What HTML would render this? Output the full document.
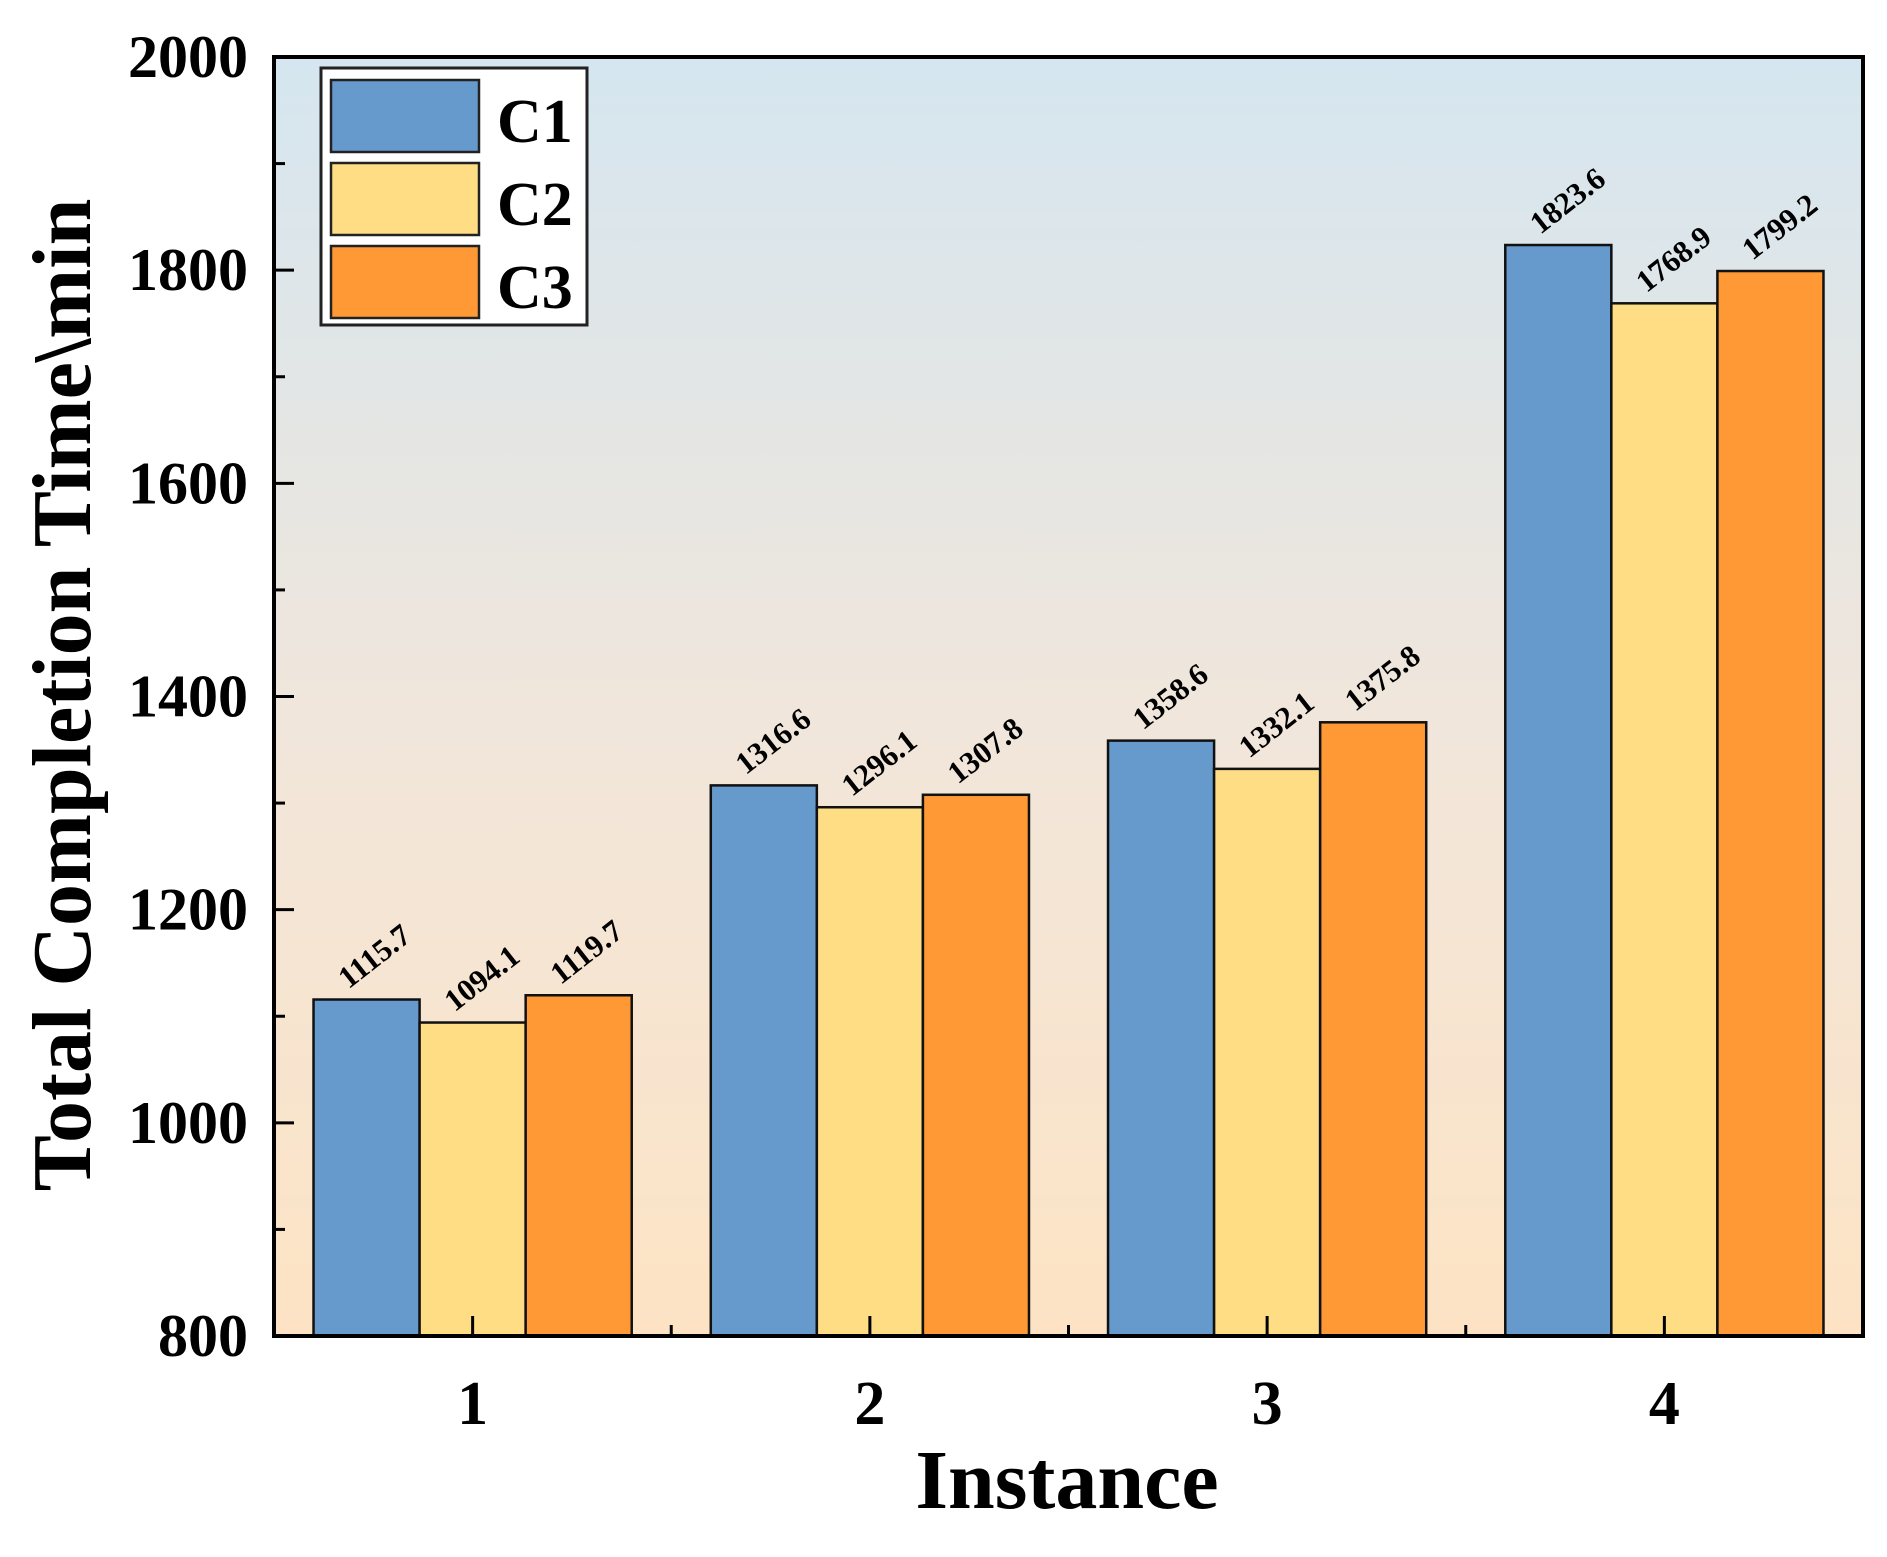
<!DOCTYPE html>
<html><head><meta charset="utf-8"><style>
html,body{margin:0;padding:0;background:#fff;}
svg{display:block;font-family:"Liberation Serif",serif;}
</style></head><body>
<svg id="chart" width="1887" height="1557" viewBox="0 0 1887 1557">
<defs>
<linearGradient id="bg" x1="0" y1="0" x2="0" y2="1">
<stop offset="0" stop-color="#d5e6f0"/>
<stop offset="0.55" stop-color="#f2e6da"/>
<stop offset="1" stop-color="#fde3c4"/>
</linearGradient>
</defs>
<rect x="274" y="57" width="1589" height="1279" fill="url(#bg)"/>
<g id="bars"></g>
<g id="labels"></g>
<g id="axes"></g>
<rect x="274" y="57" width="1589" height="1279" fill="none" stroke="#000" stroke-width="4"/>
<g>
<rect x="321" y="68" width="266" height="257" fill="#fff" stroke="#222" stroke-width="3"/>
<rect x="331" y="80" width="148" height="72" fill="#6699cc" stroke="#222" stroke-width="2.5"/>
<text x="497" y="142" font-size="62" font-weight="bold">C1</text>
<rect x="331" y="163" width="148" height="72" fill="#fedd85" stroke="#222" stroke-width="2.5"/>
<text x="497" y="225" font-size="62" font-weight="bold">C2</text>
<rect x="331" y="246" width="148" height="72" fill="#fe9935" stroke="#222" stroke-width="2.5"/>
<text x="497" y="308" font-size="62" font-weight="bold">C3</text>
</g>
<text x="1067" y="1508" font-size="84" font-weight="bold" text-anchor="middle">Instance</text>
<text transform="translate(90,695) rotate(-90)" font-size="84" font-weight="bold" text-anchor="middle">Total Completion Time\min</text>
</svg>
<script>
const categories = ["1","2","3","4"];
const seriesNames = ["C1","C2","C3"];
const c1Values = [1115.7,1316.6,1358.6,1823.6];
const c2Values = [1094.1,1296.1,1332.1,1768.9];
const c3Values = [1119.7,1307.8,1375.8,1799.2];
const yTicks = [800,1000,1200,1400,1600,1800,2000];
const colors = ["#6699cc","#fedd85","#fe9935"];
const NS="http://www.w3.org/2000/svg";
const L=274,R=1863,T=57,B=1336;
const yMin=800,yMax=2000;
function y(v){return B-(v-yMin)/(yMax-yMin)*(B-T);}
function x(i){return L+(i+0.5)/categories.length*(R-L);}
const unit=(R-L)/categories.length;
const bw=unit*0.267;
const series=[c1Values,c2Values,c3Values];
const gb=document.getElementById('bars'),gl=document.getElementById('labels'),ga=document.getElementById('axes');
function mk(tag,attrs,parent){const e=document.createElementNS(NS,tag);for(const k in attrs)e.setAttribute(k,attrs[k]);parent.appendChild(e);return e;}
categories.forEach((c,i)=>{
  series.forEach((vals,s)=>{
    const bx=x(i)+(s-1.5)*bw, by=y(vals[i]);
    const r=mk('rect',{x:bx,y:by,width:bw,height:B-by,fill:colors[s],stroke:'#111','stroke-width':2.5},gb);
    
    
    const tx=bx+bw*0.33, ty=by-10;
    const t=mk('text',{x:tx,y:ty,'font-size':31,'font-weight':'bold',transform:'rotate(-38 '+tx+' '+ty+')'},gl);
    t.textContent=vals[i].toFixed(1);
    
    
  });
  const tk=mk('line',{x1:x(i),x2:x(i),y1:B,y2:B-20,stroke:'#000','stroke-width':3},ga);
  
  
  if(i<categories.length-1){
    const mt=mk('line',{x1:x(i)+unit/2,x2:x(i)+unit/2,y1:B,y2:B-11,stroke:'#000','stroke-width':3},ga);
    
    
  }
  const lt=mk('text',{x:x(i),y:1424,'font-size':62,'font-weight':'bold','text-anchor':'middle'},ga);
  lt.textContent=c;
  
  
});
yTicks.forEach((v,k)=>{
  const tk=mk('line',{x1:L,x2:L+20,y1:y(v),y2:y(v),stroke:'#000','stroke-width':3},ga);
  
  
  if(k<yTicks.length-1){
    const mv=(v+yTicks[k+1])/2;
    const mt=mk('line',{x1:L,x2:L+11,y1:y(mv),y2:y(mv),stroke:'#000','stroke-width':3},ga);
    
    
  }
  const lt=mk('text',{x:248,y:y(v)+20,'font-size':60,'font-weight':'bold','text-anchor':'end'},ga);
  lt.textContent=v;
  
  
});
</script>
</body></html>
